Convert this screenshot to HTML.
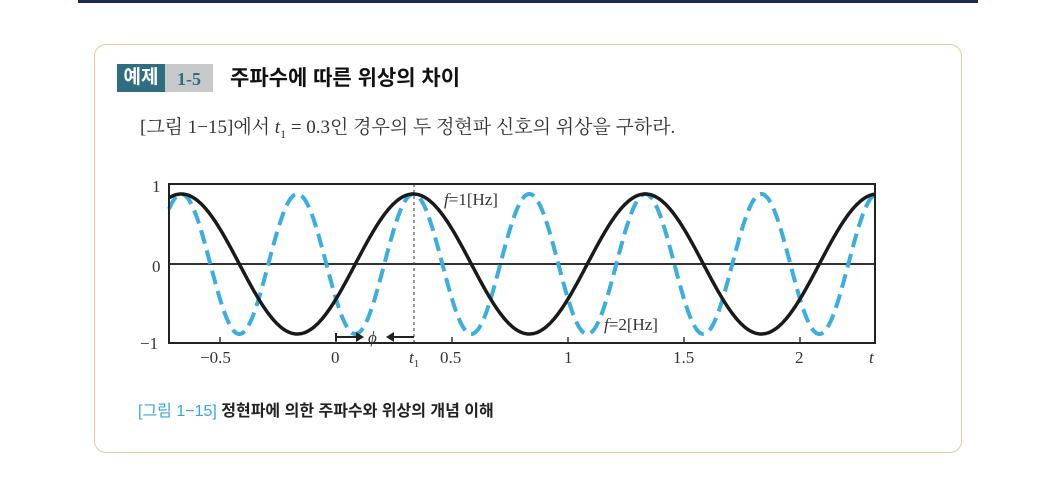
<!DOCTYPE html>
<html><head><meta charset="utf-8"><style>
body{margin:0;width:1040px;height:503px;background:#fff;position:relative;overflow:hidden;font-family:"Liberation Sans","Noto Sans CJK KR",sans-serif}
.bar{position:absolute;left:78px;top:0;width:900px;height:3px;background:#1c2a55}
.box{position:absolute;left:94px;top:44px;width:866px;height:407px;border:1.5px solid #e8c6a8;border-radius:12px}
.tag1{position:absolute;left:117px;top:64px;width:48px;height:28px;background:#2f6e80;color:#fff;font-size:19px;font-weight:bold;line-height:28px;text-align:center}
.tag2{position:absolute;left:165px;top:64px;width:48px;height:28px;background:#c6c8ca;color:#2f6e80;font-size:18px;font-weight:bold;line-height:30px;text-align:center;font-family:"Liberation Serif",serif}
.title{position:absolute;left:230px;top:62px;font-size:21px;font-weight:bold;color:#111}
.q{position:absolute;left:140px;top:112px;font-size:19px;color:#333;font-family:"Liberation Serif","Noto Serif CJK SC",serif}
.cap{position:absolute;left:138px;top:397px;font-size:16px;font-weight:bold;color:#222}
.cap span{color:#3aa6d8;font-weight:normal}
svg{position:absolute;left:0;top:0}
</style></head><body>
<div class="bar"></div>
<div class="box"></div>
<div class="tag1">예제</div><div class="tag2">1-5</div>
<div class="title">주파수에 따른 위상의 차이</div>
<div class="q">[그림 1−15]에서 <i>t</i><sub style="font-size:12px">1</sub> = 0.3인 경우의 두 정현파 신호의 위상을 구하라.</div>
<svg width="1040" height="503" font-family="Liberation Serif, serif" font-size="17" fill="#333">
<line x1="169" y1="264" x2="875" y2="264" stroke="#333" stroke-width="2"/>
<line x1="414" y1="184" x2="414" y2="343" stroke="#333" stroke-width="1" stroke-dasharray="3,3"/>
<path id="blue" fill="none" stroke="#3aaee0" stroke-width="4" stroke-dasharray="14,7"/>
<path id="black" fill="none" stroke="#1a1a1a" stroke-width="3.5"/>
<rect x="169" y="184" width="706" height="159" fill="none" stroke="#222" stroke-width="2"/>
<g stroke="#333" stroke-width="1.5"><line x1="220" y1="343" x2="220" y2="337"/><line x1="336" y1="343" x2="336" y2="337"/><line x1="452" y1="343" x2="452" y2="337"/><line x1="568" y1="343" x2="568" y2="337"/><line x1="684" y1="343" x2="684" y2="337"/><line x1="800" y1="343" x2="800" y2="337"/></g>
<path d="M336 333v8M336 337h20M414 337h-20" stroke="#222" stroke-width="2"/>
<path d="M356 332l8 5-8 5zM394 332l-8 5 8 5z" fill="#222"/>
<text x="368" y="343" font-style="italic">ϕ</text>
<text x="152" y="192">1</text><text x="152" y="272">0</text><text x="140" y="349">−1</text>
<text x="200" y="363">−0.5</text><text x="331" y="363">0</text><text x="409" y="363" font-style="italic">t<tspan font-size="11" dy="4" font-style="normal">1</tspan></text>
<text x="440" y="363">0.5</text><text x="564" y="363">1</text><text x="673" y="363">1.5</text><text x="795" y="363">2</text><text x="869" y="363" font-style="italic">t</text>
<text x="444" y="205"><tspan font-style="italic">f</tspan>=1[Hz]</text>
<text x="604" y="330"><tspan font-style="italic">f</tspan>=2[Hz]</text>
</svg>
<div class="cap"><span>[그림 1−15]</span> 정현파에 의한 주파수와 위상의 개념 이해</div>
<script>
function mk(f){let d="";for(let x=169;x<=875;x+=1){let t=(x-336)/232;let y=264-70*Math.cos(2*Math.PI*f*(t-1/3));d+=(x==169?"M":"L")+x+" "+y.toFixed(1)+" ";}return d;}
document.getElementById("black").setAttribute("d",mk(1));
document.getElementById("blue").setAttribute("d",mk(2));
</script>
</body></html>
